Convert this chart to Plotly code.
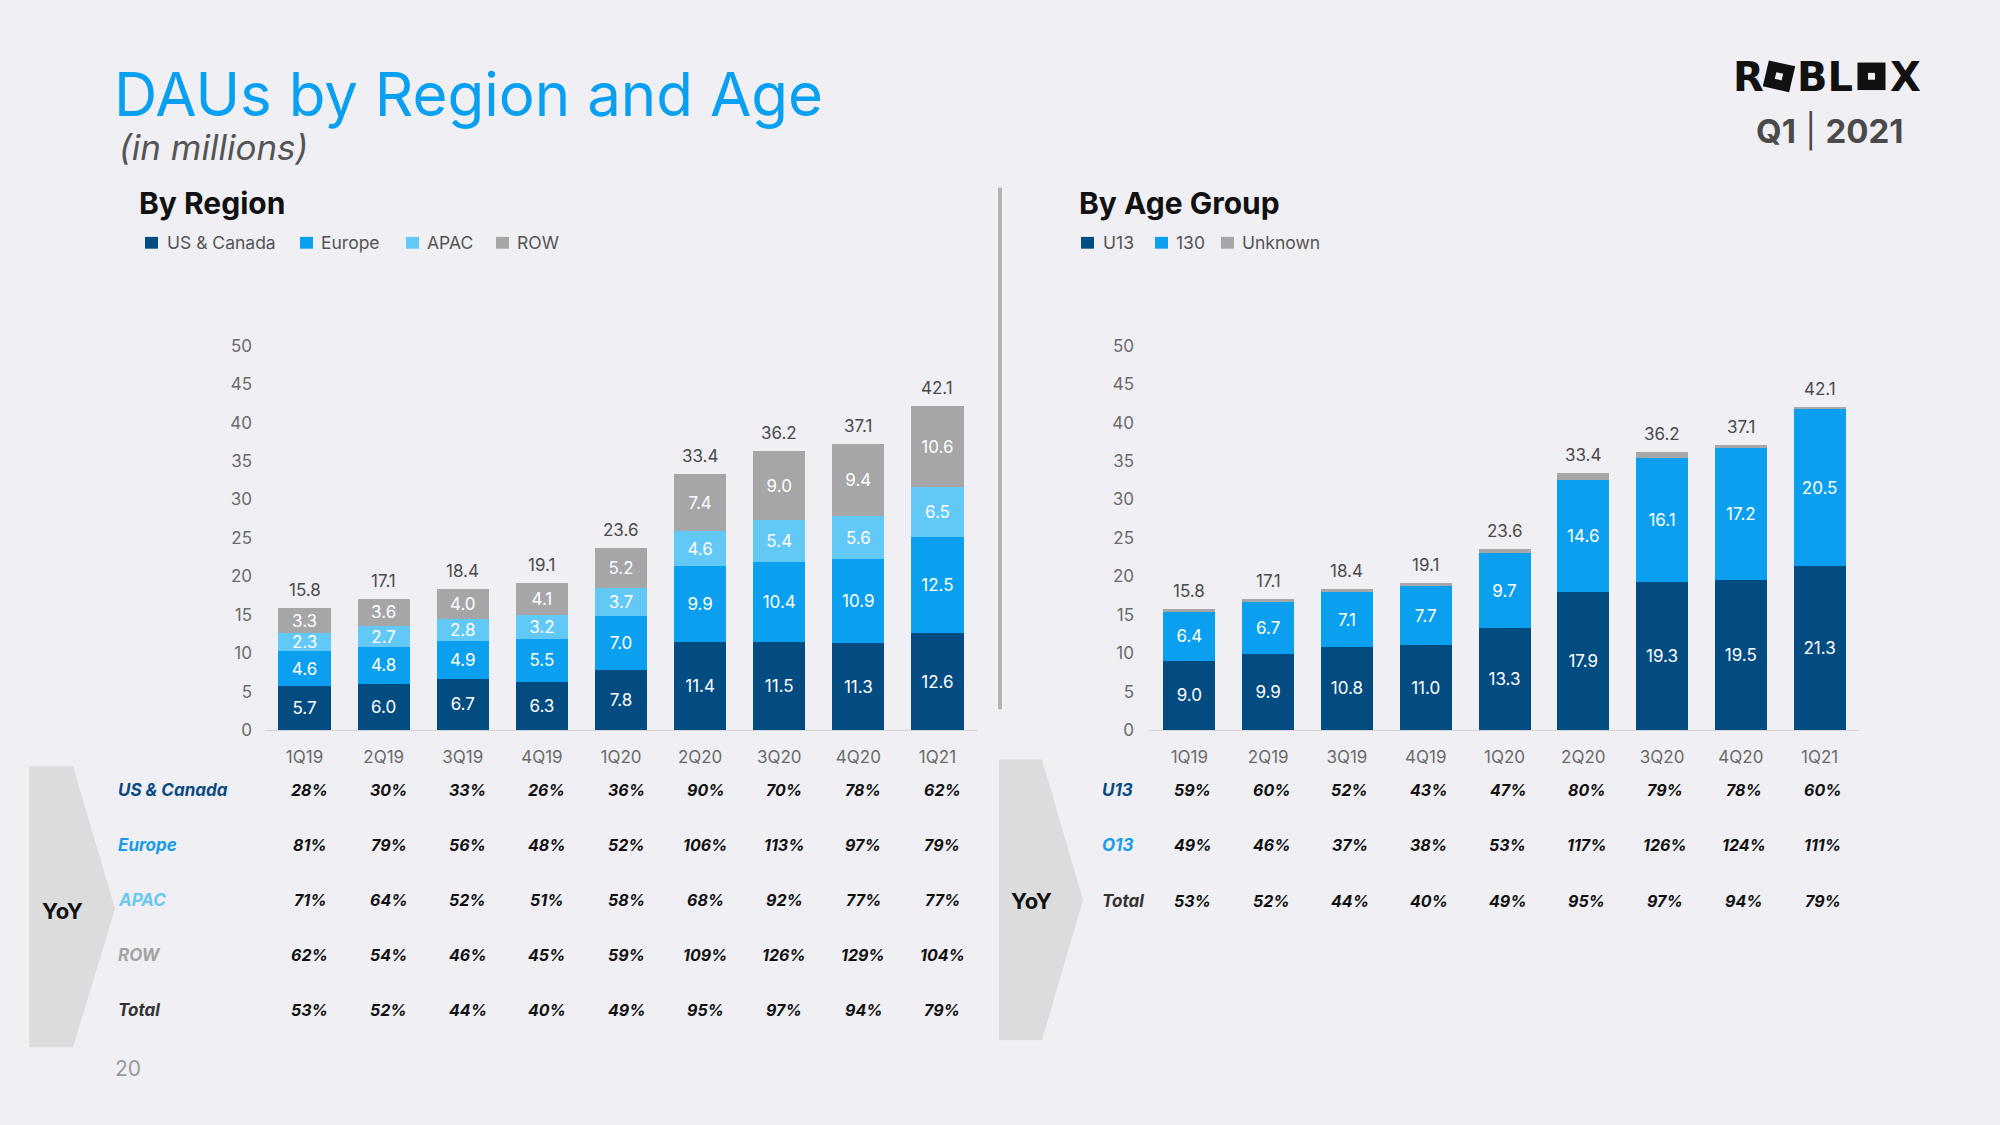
import math
import plotly.graph_objects as go

# ---------------- data ----------------
quarters = ["1Q19", "2Q19", "3Q19", "4Q19", "1Q20", "2Q20", "3Q20", "4Q20", "1Q21"]
totals = [15.8, 17.1, 18.4, 19.1, 23.6, 33.4, 36.2, 37.1, 42.1]

us_canada = [5.7, 6.0, 6.7, 6.3, 7.8, 11.4, 11.5, 11.3, 12.6]
europe = [4.6, 4.8, 4.9, 5.5, 7.0, 9.9, 10.4, 10.9, 12.5]
apac = [2.3, 2.7, 2.8, 3.2, 3.7, 4.6, 5.4, 5.6, 6.5]
row = [3.3, 3.6, 4.0, 4.1, 5.2, 7.4, 9.0, 9.4, 10.6]

u13 = [9.0, 9.9, 10.8, 11.0, 13.3, 17.9, 19.3, 19.5, 21.3]
o13 = [6.4, 6.7, 7.1, 7.7, 9.7, 14.6, 16.1, 17.2, 20.5]
unknown = [0.4, 0.5, 0.5, 0.4, 0.6, 0.9, 0.8, 0.4, 0.3]

yoy_us = ["28%", "30%", "33%", "26%", "36%", "90%", "70%", "78%", "62%"]
yoy_europe = ["81%", "79%", "56%", "48%", "52%", "106%", "113%", "97%", "79%"]
yoy_apac = ["71%", "64%", "52%", "51%", "58%", "68%", "92%", "77%", "77%"]
yoy_row = ["62%", "54%", "46%", "45%", "59%", "109%", "126%", "129%", "104%"]
yoy_total = ["53%", "52%", "44%", "40%", "49%", "95%", "97%", "94%", "79%"]
yoy_u13 = ["59%", "60%", "52%", "43%", "47%", "80%", "79%", "78%", "60%"]
yoy_o13 = ["49%", "46%", "37%", "38%", "53%", "117%", "126%", "124%", "111%"]

y_ticks = [0, 5, 10, 15, 20, 25, 30, 35, 40, 45, 50]

# ---------------- styles ----------------
W, H = 2000, 1125
BG = "#f0f0f4"
C_US = "#034c82"
C_EU = "#0b9ff0"
C_APAC = "#62c8f6"
C_ROW = "#a6a6a8"
FONT = "Inter"


def X(px):
    return px / W


def Y(py):
    return 1 - py / H


fig = go.Figure()

label_font = dict(family=FONT, size=17, color="white")


def add_bar(name, vals, color, xa, ya, show_text=True):
    fig.add_trace(go.Bar(
        x=quarters, y=vals, name=name, marker=dict(color=color, line=dict(width=0)),
        text=[f"{v:.1f}" for v in vals] if show_text else None,
        textposition="inside" if show_text else "none",
        insidetextanchor="middle", textfont=label_font, constraintext="none",
        xaxis=xa, yaxis=ya, showlegend=False, hoverinfo="skip",
    ))


add_bar("US & Canada", us_canada, C_US, "x", "y")
add_bar("Europe", europe, C_EU, "x", "y")
add_bar("APAC", apac, C_APAC, "x", "y")
add_bar("ROW", row, C_ROW, "x", "y")

add_bar("U13", u13, C_US, "x2", "y2")
add_bar("130", o13, C_EU, "x2", "y2")
add_bar("Unknown", unknown, C_ROW, "x2", "y2", show_text=False)

annotations = []
shapes = []

# totals above bars
for xa, ya, tops in (("x", "y", [a + b + c + d for a, b, c, d in zip(us_canada, europe, apac, row)]),
                     ("x2", "y2", [a + b + c for a, b, c in zip(u13, o13, unknown)])):
    for q, t, top in zip(quarters, totals, tops):
        annotations.append(dict(x=q, y=top, xref=xa, yref=ya, text=f"{t:.1f}", showarrow=False,
                                yanchor="bottom", yshift=6,
                                font=dict(family=FONT, size=17, color="#4a4a4a")))

# ---------------- titles ----------------
annotations += [
    dict(x=X(112), y=Y(86), xref="paper", yref="paper", text="DAUs by Region and Age",
         xanchor="left", yanchor="middle", showarrow=False,
         font=dict(family=FONT, size=60, color="#0aa0f2")),
    dict(x=X(117), y=Y(139), xref="paper", yref="paper", text="<i>(in millions)</i>",
         xanchor="left", yanchor="middle", showarrow=False,
         font=dict(family=FONT, size=35, color="#555555")),
    dict(x=X(137), y=Y(197), xref="paper", yref="paper", text="<b>By Region</b>",
         xanchor="left", yanchor="middle", showarrow=False,
         font=dict(family=FONT, size=30, color="#111111")),
    dict(x=X(1077), y=Y(197), xref="paper", yref="paper", text="<b>By Age Group</b>",
         xanchor="left", yanchor="middle", showarrow=False,
         font=dict(family=FONT, size=30, color="#111111")),
    dict(x=X(1829), y=Y(123), xref="paper", yref="paper", text="<b>Q1</b> | <b>2021</b>",
         xanchor="center", yanchor="middle", showarrow=False,
         font=dict(family=FONT, size=33, color="#4a4a4a")),
    dict(x=X(113), y=Y(1078), xref="paper", yref="paper", text="20",
         xanchor="left", yanchor="middle", showarrow=False,
         font=dict(family=FONT, size=21, color="#9a9a9a")),
]

# ---------------- manual legends ----------------
def legend(items, y_px):
    for x_sq, x_txt, label, color in items:
        shapes.append(dict(type="rect", xref="paper", yref="paper",
                           x0=X(x_sq), x1=X(x_sq + 13), y0=Y(243), y1=Y(231),
                           fillcolor=color, line=dict(width=0)))
        annotations.append(dict(x=X(x_txt), y=Y(y_px), xref="paper", yref="paper", text=label,
                                xanchor="left", yanchor="middle", showarrow=False,
                                font=dict(family=FONT, size=17.5, color="#555555")))


legend([(145, 165, "US & Canada", C_US), (300, 319, "Europe", C_EU),
        (406, 425, "APAC", C_APAC), (496, 515, "ROW", C_ROW)], 237)
legend([(1081, 1101, "U13", C_US), (1155, 1174, "130", C_EU),
        (1221, 1240, "Unknown", C_ROW)], 237)

# ---------------- Roblox logo ----------------
logo_font = dict(family="DejaVu Sans", size=40, color="#111111")
annotations += [
    dict(x=X(1731), y=Y(68), xref="paper", yref="paper", text="<b>R</b>", xanchor="left",
         yanchor="middle", showarrow=False, font=logo_font),
    dict(x=X(1795), y=Y(68), xref="paper", yref="paper", text="<b>BL</b>", xanchor="left",
         yanchor="middle", showarrow=False, font=logo_font),
    dict(x=X(1888), y=Y(68), xref="paper", yref="paper", text="<b>X</b>", xanchor="left",
         yanchor="middle", showarrow=False, font=logo_font),
]


def square_path(cx, cy, size, angle_deg):
    a = math.radians(angle_deg)
    pts = []
    for dx, dy in ((-1, -1), (1, -1), (1, 1), (-1, 1)):
        x = dx * size / 2
        y = dy * size / 2
        rx = cx + x * math.cos(a) - y * math.sin(a)
        ry = cy + x * math.sin(a) + y * math.cos(a)
        pts.append((X(rx), Y(ry)))
    return "M " + " L ".join(f"{p[0]:.5f},{p[1]:.5f}" for p in pts) + " Z"


for cx, cy, size, ang in ((1779, 67.5, 27, 13), (1871.5, 67.5, 28, 0)):
    shapes.append(dict(type="path", xref="paper", yref="paper", path=square_path(cx, cy, size, ang),
                       fillcolor="#111111", line=dict(width=0)))
    shapes.append(dict(type="path", xref="paper", yref="paper", path=square_path(cx, cy, 7, ang),
                       fillcolor=BG, line=dict(width=0)))

# ---------------- divider ----------------
shapes.append(dict(type="line", xref="paper", yref="paper", x0=X(1000), x1=X(1000),
                   y0=Y(181), y1=Y(712), line=dict(color="#b3b3b3", width=4)))

# ---------------- YoY arrows ----------------
def arrow(x0, x1, xtip, ytop, ybot, ytip):
    path = (f"M {X(x0)},{Y(ytop)} L {X(x1)},{Y(ytop)} L {X(xtip)},{Y(ytip)} "
            f"L {X(x1)},{Y(ybot)} L {X(x0)},{Y(ybot)} Z")
    shapes.append(dict(type="path", xref="paper", yref="paper", path=path,
                       fillcolor="#dcdcdc", line=dict(width=0), layer="below"))


arrow(29, 73, 115, 770, 1056, 915)
arrow(999, 1042, 1083, 763, 1049, 906)
annotations += [
    dict(x=X(62), y=Y(917), xref="paper", yref="paper", text="<b>YoY</b>", xanchor="center",
         yanchor="middle", showarrow=False, font=dict(family=FONT, size=22, color="#111111")),
    dict(x=X(1031), y=Y(907), xref="paper", yref="paper", text="<b>YoY</b>", xanchor="center",
         yanchor="middle", showarrow=False, font=dict(family=FONT, size=22, color="#111111")),
]

# ---------------- YoY tables ----------------
val_font = dict(family=FONT, size=16, color="#111111")


def table_row(label, color, vals, xa, label_x, y_px, xshift):
    annotations.append(dict(x=X(label_x), y=Y(y_px), xref="paper", yref="paper",
                            text=f"<b><i>{label}</i></b>", xanchor="left", yanchor="middle",
                            showarrow=False, font=dict(family=FONT, size=17, color=color)))
    for q, v in zip(quarters, vals):
        annotations.append(dict(x=q, y=Y(y_px), xref=xa, yref="paper", text=f"<b><i>{v}</i></b>",
                                xanchor="center", yanchor="middle", xshift=xshift,
                                showarrow=False, font=val_font))


table_row("US & Canada", "#0b4a80", yoy_us, "x", 116, 794, 5)
table_row("Europe", "#1a9be6", yoy_europe, "x", 116, 850, 5)
table_row("APAC", "#6ac7f3", yoy_apac, "x", 116, 906, 5)
table_row("ROW", "#a3a3a3", yoy_row, "x", 116, 962, 5)
table_row("Total", "#333333", yoy_total, "x", 116, 1018, 5)

table_row("U13", "#0b4a80", yoy_u13, "x2", 1100, 794, 3)
table_row("O13", "#1a9be6", yoy_o13, "x2", 1100, 850, 3)
table_row("Total", "#333333", yoy_total, "x2", 1100, 907, 3)

# ---------------- axes ----------------
ydom = [Y(733), Y(342)]
xaxis_common = dict(type="category", showgrid=False, zeroline=False, showline=True,
                    linecolor="#d3d3d3", linewidth=1, ticks="", ticklabelstandoff=12,
                    tickfont=dict(family=FONT, size=17, color="#6b6b6b"), fixedrange=True)
yaxis_common = dict(range=[0, 50], tickvals=y_ticks, showgrid=False, zeroline=False,
                    showline=False, ticks="", tickfont=dict(family=FONT, size=17, color="#6b6b6b"),
                    fixedrange=True)

fig.update_layout(
    width=W, height=H, margin=dict(l=0, r=0, t=0, b=0),
    paper_bgcolor=BG, plot_bgcolor=BG,
    barmode="stack", bargap=0.34,
    xaxis=dict(domain=[X(265), X(977)], anchor="y", **xaxis_common),
    yaxis=dict(domain=ydom, anchor="x", ticklabelstandoff=12, **yaxis_common),
    xaxis2=dict(domain=[X(1150), X(1859)], anchor="y2", **xaxis_common),
    yaxis2=dict(domain=ydom, anchor="x2", ticklabelstandoff=15, **yaxis_common),
    annotations=annotations, shapes=shapes,
    uniformtext=dict(mode=False),
)

page_css = (
    "var s=document.createElement('style');"
    "s.textContent='html,body{margin:0!important;padding:0!important;overflow:hidden;"
    "background:" + BG + ";}';"
    "document.head.appendChild(s);"
)

fig.write_html("out.html", config={"displayModeBar": False}, post_script=page_css)
